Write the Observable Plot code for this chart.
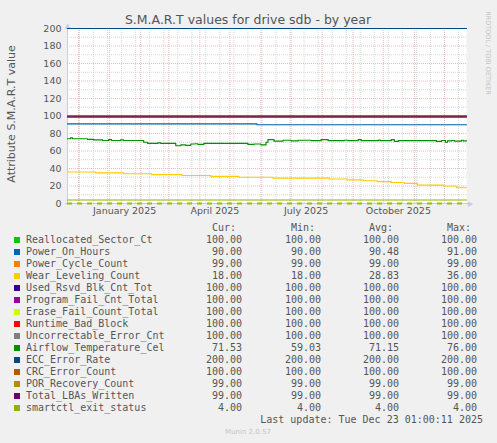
<!DOCTYPE html>
<html><head><meta charset="utf-8">
<script src="https://cdn.jsdelivr.net/npm/d3@7"></script>
<script src="https://cdn.jsdelivr.net/npm/@observablehq/plot@0.6"></script>
<style>
body{margin:0;background:#f0f0f0;}
#wrap{position:relative;width:497px;height:443px;overflow:hidden;font-family:"DejaVu Sans";color:#555;}
.t{position:absolute;white-space:pre;line-height:12px;}
.m{font-family:"DejaVu Sans Mono";font-size:10px;color:#555;}
#chart{position:absolute;left:0;top:0;}
</style></head><body><div id="wrap"><div id="chart"></div></div>
<script>
const titleText = "S.M.A.R.T values for drive sdb - by year";
const yLabel = "Attribute S.M.A.R.T value";
const startDate = "2024-11-20";
const endDate = "2025-12-23";
const yTicks = [0,20,40,60,80,100,120,140,160,180,200];
const yMinor = [10,30,50,70,90,110,130,150,170,190];
const monthLabels = ["January 2025","April 2025","July 2025","October 2025"];
const monthLabelDates = ["2025-01-16","2025-04-16","2025-07-16","2025-10-16"];
const minorGridStart = "2024-12-02";

const seriesNames = ["Reallocated_Sector_Ct","Power_On_Hours","Power_Cycle_Count","Wear_Leveling_Count","Used_Rsvd_Blk_Cnt_Tot","Program_Fail_Cnt_Total","Erase_Fail_Count_Total","Runtime_Bad_Block","Uncorrectable_Error_Cnt","Airflow_Temperature_Cel","ECC_Error_Rate","CRC_Error_Count","POR_Recovery_Count","Total_LBAs_Written","smartctl_exit_status"];
const seriesColors = ["#00cc00","#0066b3","#ff8000","#ffcc00","#330099","#990099","#ccff00","#ff0000","#808080","#008f00","#00487d","#b35a00","#b38f00","#6b006b","#8fb300"];
const curValues = ["100.00","90.00","99.00","18.00","100.00","100.00","100.00","100.00","100.00","71.53","200.00","100.00","99.00","99.00","4.00"];
const minValues = ["100.00","90.00","99.00","18.00","100.00","100.00","100.00","100.00","100.00","59.03","200.00","100.00","99.00","99.00","4.00"];
const avgValues = ["100.00","90.48","99.00","28.83","100.00","100.00","100.00","100.00","100.00","71.15","200.00","100.00","99.00","99.00","4.00"];
const maxValues = ["100.00","91.00","99.00","36.00","100.00","100.00","100.00","100.00","100.00","76.00","200.00","100.00","99.00","99.00","4.00"];
// constant series (null = series given by its own arrays below)
const constValues = [100,null,99,null,100,100,100,100,100,null,200,100,99,99,4];

const powerOnDates = ["2024-11-20","2025-05-28","2025-12-23"];
const powerOnValues = [91,90,90];

const wearDates = ["2024-11-20","2024-12-18","2025-01-15","2025-02-12","2025-03-14","2025-04-12","2025-05-10","2025-06-13","2025-08-08","2025-08-26","2025-09-11","2025-09-25","2025-10-09","2025-10-22","2025-11-04","2025-11-30","2025-12-13","2025-12-23"];
const wearValues = [36,35,34,33,32,31,30,29,28,27,26,25,24,23,21,20,18,18];

const tempDates = ["2024-11-20","2024-11-23","2024-11-25","2024-12-10","2024-12-16","2024-12-25","2024-12-31","2025-01-03","2025-01-12","2025-01-15","2025-02-04","2025-02-08","2025-02-18","2025-02-21","2025-03-08","2025-03-13","2025-03-18","2025-03-23","2025-03-27","2025-03-30","2025-04-05","2025-05-19","2025-05-25","2025-06-01","2025-06-06","2025-06-08","2025-06-14","2025-06-23","2025-07-01","2025-07-08","2025-07-21","2025-07-31","2025-08-07","2025-08-23","2025-08-27","2025-09-06","2025-09-09","2025-09-26","2025-09-28","2025-10-09","2025-10-12","2025-10-16","2025-11-23","2025-11-28","2025-12-02","2025-12-04","2025-12-08","2025-12-11","2025-12-18","2025-12-20","2025-12-23"];
const tempValues = [74,75,74,73.3,72.8,72,73,72,72.7,72,70,68.7,69.2,68.7,66,67,66.5,68,68.3,67.5,68.7,67.5,68,67,70,72.9,71.3,72.3,71.5,72.3,71.8,72.9,71.8,72.3,71.8,72.9,71.8,72.4,71.8,72.9,71,71.8,71,72,70,71.5,72,71.3,72.3,71.5,71.5];

const lastUpdate = "Last update: Tue Dec 23 01:00:11 2025";
const muninVersion = "Munin 2.0.57";
const watermark = "RRDTOOL / TOBI OETIKER";

const parse = d3.utcParse("%Y-%m-%d");
const x0 = parse(startDate), x1 = parse(endDate);

function seriesRows(i) {
  if (constValues[i] !== null) return [{date:x0, value:constValues[i]},{date:x1, value:constValues[i]}];
  let ds, vs;
  if (seriesNames[i] === "Power_On_Hours") { ds = powerOnDates; vs = powerOnValues; }
  else if (seriesNames[i] === "Wear_Leveling_Count") { ds = wearDates; vs = wearValues; }
  else { ds = tempDates; vs = tempValues; }
  return ds.map((d,k)=>({date:parse(d), value:vs[k]}));
}

const monthStarts = d3.utcMonth.range(x0, x1);
const minorX = d3.range(0, 40).map(k=>d3.utcDay.offset(parse(minorGridStart), 14*k)).filter(d=>d>x0 && d<x1);
const labelRows = monthLabels.map((l,k)=>({date:parse(monthLabelDates[k]), label:l}));

const axisColor = "#c8c8f4";
const chart = Plot.plot({
  width:497, height:220, marginLeft:67, marginRight:31, marginTop:28, marginBottom:17,
  style:{background:"transparent", fontFamily:"DejaVu Sans", fontSize:"9.5px", color:"#555", overflow:"visible"},
  x:{type:"utc", domain:[x0,x1], axis:null},
  y:{domain:[0,200], axis:null},
  marks:[
    Plot.frame({fill:"white", stroke:"none"}),
    Plot.ruleY(yMinor, {stroke:"#d6d6d6", strokeDasharray:"1,1"}),
    Plot.ruleX(minorX, {stroke:"#d6d6d6", strokeDasharray:"1,1"}),
    Plot.ruleY(yTicks, {stroke:"#efbcbc", strokeDasharray:"1,1"}),
    Plot.ruleX(monthStarts, {stroke:"#efbcbc", strokeDasharray:"1,1"}),
    Plot.axisY({ticks:yTicks, tickSize:0, tickPadding:6, label:null, fill:"#555"}),
    Plot.text(labelRows, {x:"date", text:"label", frameAnchor:"bottom", dy:10, fill:"#555"}),
    Plot.ruleX([x0], {y1:-2, y2:203, stroke:axisColor}),
    Plot.ruleY([0], {x1:d3.utcDay.offset(x0,-2), x2:d3.utcDay.offset(x1,3), stroke:axisColor}),
    Plot.text([x0], {x:d=>d, y:[203], text:["▲"], fontSize:7, fill:axisColor}),
    Plot.text([x1], {x:d=>d3.utcDay.offset(d,4), y:[0], text:["▶"], fontSize:7, fill:axisColor}),
    ...seriesNames.map((n,i)=>Plot.line(seriesRows(i), {x:"date", y:"value", stroke:seriesColors[i], strokeWidth:1.2, curve:"step-after"})),
    Plot.ruleY([0], {stroke:"#99c000", strokeWidth:2, strokeDasharray:"5,5"})
  ]
});
document.getElementById("chart").appendChild(chart);

const wrap = document.getElementById("wrap");
function addText(txt, css, cls) {
  const el = document.createElement("div");
  el.className = "t" + (cls ? " " + cls : "");
  el.textContent = txt;
  Object.assign(el.style, css);
  wrap.appendChild(el);
  return el;
}
addText(titleText, {left:"248px", top:"20px", fontSize:"12.5px", transform:"translate(-50%,-50%)", lineHeight:"14px"});
addText(yLabel, {left:"11px", top:"114px", fontSize:"11px", transform:"translate(-50%,-50%) rotate(-90deg)", lineHeight:"13px"});
addText(watermark, {left:"488px", top:"53px", fontSize:"6.5px", color:"#c4c4c4", transform:"translate(-50%,-50%) rotate(90deg)", lineHeight:"8px"});

const rowY0 = 239.7, rowStep = 12;
const headers = [["Cur:",236],["Min:",315],["Avg:",393],["Max:",471]];
headers.forEach(([h,r])=>addText(h, {right:(497-r)+"px", top:(rowY0-12-6)+"px"}, "m"));
const cols = [[curValues,242],[minValues,321],[avgValues,399],[maxValues,477]];
seriesNames.forEach((n,i)=>{
  const cy = rowY0 + rowStep*i;
  const sw = document.createElement("div");
  Object.assign(sw.style, {position:"absolute", left:"14px", top:(cy-3)+"px", width:"6px", height:"6px", background:seriesColors[i]});
  wrap.appendChild(sw);
  addText(n, {left:"26px", top:(cy-6)+"px"}, "m");
  cols.forEach(([arr,r])=>addText(arr[i], {right:(497-r)+"px", top:(cy-6)+"px"}, "m"));
});
addText(lastUpdate, {right:(497-483)+"px", top:(rowY0+rowStep*15-6)+"px"}, "m");
addText(muninVersion, {left:"248px", top:"432px", fontSize:"7px", color:"#c4c4c4", transform:"translate(-50%,-50%)", lineHeight:"9px"});
</script></body></html>
